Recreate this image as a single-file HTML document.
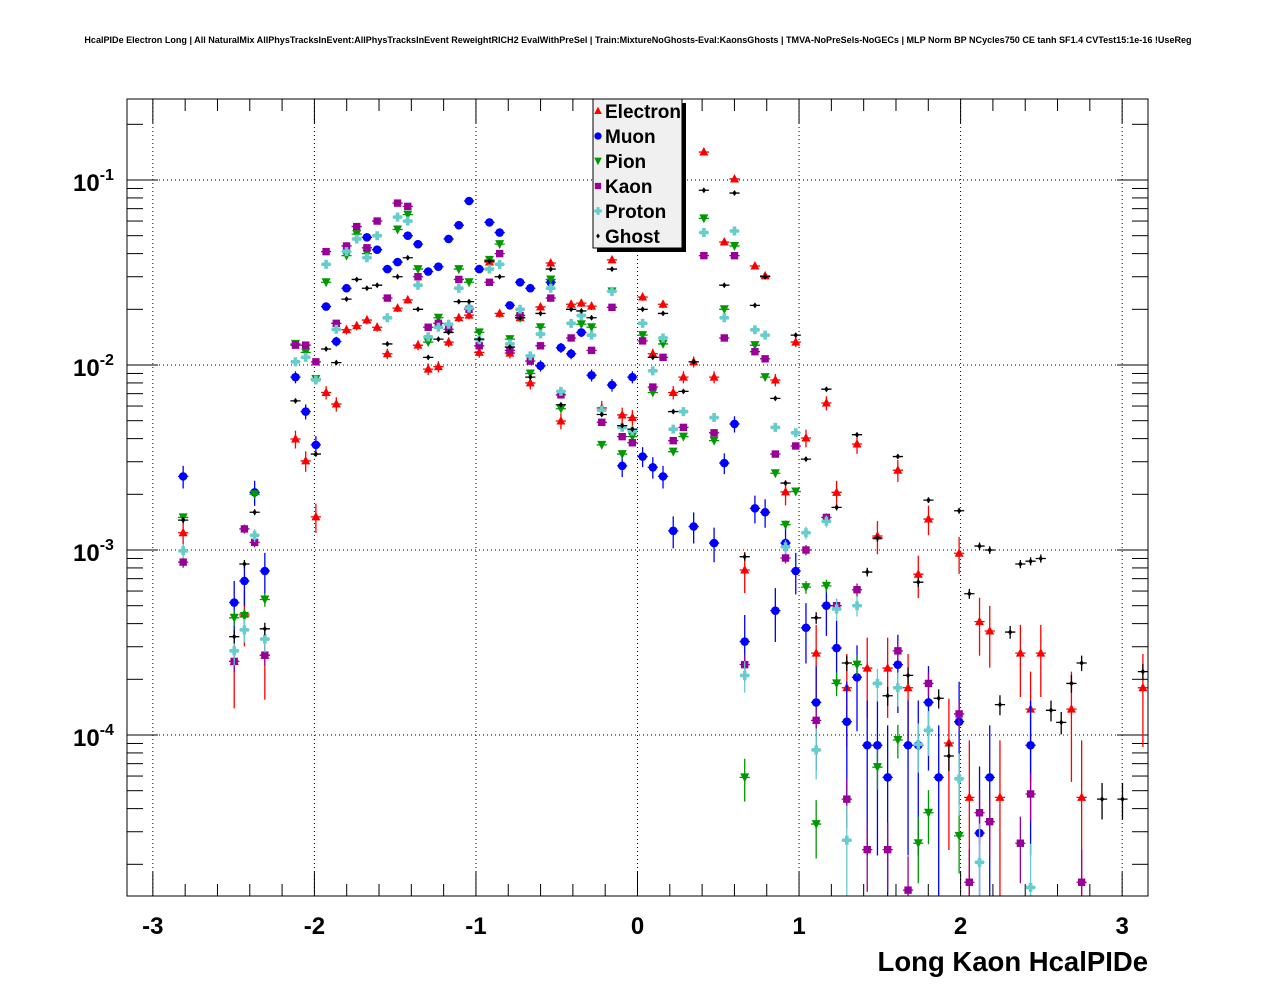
<!DOCTYPE html>
<html><head><meta charset="utf-8"><style>
html,body{margin:0;padding:0;background:#fff;}
svg{display:block;font-family:"Liberation Sans",Arial,sans-serif;}
</style></head><body>
<svg id="chart" width="1276" height="996" viewBox="0 0 1276 996" xmlns="http://www.w3.org/2000/svg">
<rect x="0" y="0" width="1276" height="996" fill="#fff"/>
<text x="638" y="43" text-anchor="middle" font-size="9.05" font-weight="bold">HcalPIDe Electron Long | All NaturalMix AllPhysTracksInEvent:AllPhysTracksInEvent ReweightRICH2 EvalWithPreSel | Train:MixtureNoGhosts-Eval:KaonsGhosts | TMVA-NoPreSels-NoGECs | MLP Norm BP NCycles750 CE tanh SF1.4 CVTest15:1e-16 !UseReg</text>
<g id="grid"></g>
<g id="axes"></g>
<defs><clipPath id="pc"><rect x="127" y="99" width="1021" height="797"/></clipPath></defs>
<g id="marks" clip-path="url(#pc)"></g>
<rect x="127" y="99" width="1021" height="797" fill="none" stroke="#000" stroke-width="1"/>
<text x="1148" y="971" text-anchor="end" font-size="27.5" font-weight="bold">Long Kaon HcalPIDe</text>
<g id="legend"></g>
</svg>
<script>
const xMin = -3.16, xMax = 3.16, nBins = 100;
const xTickLabels = ["-3","-2","-1","0","1","2","3"];
const xTickValues = [-3,-2,-1,0,1,2,3];
const yTickExps = ["-1","-2","-3","-4"];
const seriesNames = ["Electron","Muon","Pion","Kaon","Proton","Ghost"];

const electronBins = [5,10,11,13,16,17,18,19,20,21,22,23,24,25,26,27,28,29,30,31,32,33,34,35,36,37,38,39,40,41,42,43,44,45,46,47,48,49,50,51,52,53,54,55,56,57,58,59,60,61,62,63,64,65,66,67,68,69,70,71,72,73,74,75,76,77,78,80,81,82,83,84,85,87,88,89,92,93,99];
const electronValues = [1.24e-3,2.5e-4,4.5e-4,2.7e-4,3.98e-3,3.03e-3,1.51e-3,7.1e-3,6.15e-3,1.55e-2,1.63e-2,1.75e-2,1.6e-2,1.15e-2,2.03e-2,2.25e-2,1.28e-2,9.5e-3,9.8e-3,1.33e-2,1.8e-2,1.86e-2,1.17e-2,3.6e-2,1.9e-2,1.16e-2,1.8e-2,8e-3,2.06e-2,3.56e-2,4.98e-3,2.13e-2,2.16e-2,2.08e-2,5.86e-3,3.7e-2,5.37e-3,5.2e-3,2.33e-2,1.15e-2,2.13e-2,7.1e-3,8.6e-3,1.04e-2,0.1416,8.6e-3,4.62e-2,0.1013,7.8e-4,3.43e-2,3.03e-2,8.3e-3,2.06e-3,1.33e-2,4.03e-3,2.77e-4,6.23e-3,2.05e-3,1.8e-4,3.74e-3,2.3e-4,1.19e-3,2.3e-4,2.7e-3,1.8e-4,7.4e-4,1.47e-3,9.05e-5,9.6e-4,4.6e-5,4.1e-4,3.65e-4,4.6e-5,2.77e-4,1.38e-4,2.77e-4,1.38e-4,4.6e-5,1.8e-4];

const muonBins = [5,10,11,12,13,16,17,18,19,20,21,23,24,25,26,27,28,29,30,31,32,33,34,35,36,37,38,39,40,41,42,43,44,45,47,48,49,50,51,52,53,55,57,58,59,61,62,60,63,64,65,66,67,68,69,70,71,72,73,74,75,76,77,78,79,81,83,84,88];
const muonValues = [2.5e-3,5.2e-4,6.8e-4,2.05e-3,7.7e-4,8.6e-3,5.6e-3,3.7e-3,2.07e-2,1.34e-2,2.6e-2,4.9e-2,4.2e-2,3.3e-2,3.6e-2,5.0e-2,4.5e-2,3.2e-2,3.4e-2,4.8e-2,5.7e-2,7.7e-2,3.3e-2,5.9e-2,5.2e-2,2.1e-2,2.8e-2,2.6e-2,9.9e-3,2.8e-2,1.24e-2,1.15e-2,1.5e-2,8.8e-3,7.8e-3,2.85e-3,8.6e-3,3.2e-3,2.8e-3,2.5e-3,1.27e-3,1.34e-3,1.09e-3,2.95e-3,4.8e-3,1.68e-3,1.6e-3,3.2e-4,4.7e-4,1.09e-3,7.7e-4,3.8e-4,1.5e-4,5.0e-4,2.95e-4,1.18e-4,2.05e-4,8.8e-5,8.8e-5,5.9e-5,2.4e-4,8.8e-5,8.8e-5,1.5e-4,5.9e-5,1.18e-4,2.95e-5,5.9e-5,8.8e-5];

const pionBins = [5,10,11,12,13,16,17,18,19,21,22,23,26,27,28,29,30,32,33,34,35,36,37,38,39,40,41,42,44,45,46,47,48,49,50,51,52,53,54,56,57,58,59,61,62,63,64,65,66,68,60,67,69,71,73,75,77,78,81];
const pionValues = [1.5e-3,4.3e-4,4.4e-4,2.0e-3,5.4e-4,1.3e-2,1.17e-2,8.4e-3,2.8e-2,3.9e-2,5.1e-2,4.0e-2,5.4e-2,6.5e-2,3.3e-2,1.33e-2,1.8e-2,3.3e-2,2.8e-2,1.5e-2,3.7e-2,4.5e-2,1.38e-2,1.8e-2,9.0e-3,1.6e-2,2.9e-2,5.8e-3,1.66e-2,1.6e-2,3.7e-3,2.5e-2,3.3e-3,4.1e-3,1.45e-2,7.1e-3,1.3e-2,3.4e-3,4.1e-3,6.2e-2,3.9e-3,2.0e-2,4.4e-2,1.28e-2,8.6e-3,2.6e-3,1.37e-3,2.07e-3,6.3e-4,6.4e-4,5.9e-5,3.3e-5,1.9e-4,2.4e-4,6.7e-5,9.4e-5,2.6e-5,3.8e-5,2.85e-5];

const kaonBins = [5,10,11,12,13,16,17,18,19,20,21,22,23,24,25,26,27,28,29,30,31,32,33,34,35,36,37,38,39,40,41,42,43,45,46,47,48,49,50,51,52,53,54,56,57,58,59,61,62,63,64,65,66,68,71,60,67,69,70,72,74,75,76,78,81,82,83,84,87,88,93];
const kaonValues = [8.6e-4,2.5e-4,1.3e-3,1.1e-3,2.7e-4,1.28e-2,1.28e-2,1.04e-2,4.1e-2,1.68e-2,4.4e-2,5.6e-2,4.3e-2,6.0e-2,2.3e-2,7.5e-2,7.2e-2,3.0e-2,1.6e-2,1.68e-2,1.56e-2,2.9e-2,2.0e-2,1.27e-2,2.8e-2,4.0e-2,1.2e-2,1.85e-2,1.05e-2,1.27e-2,2.3e-2,6.9e-3,1.4e-2,1.2e-2,4.9e-3,2.05e-2,4.1e-3,3.8e-3,1.35e-2,7.6e-3,1.1e-2,3.9e-3,4.6e-3,3.9e-2,4.3e-3,1.4e-2,3.9e-2,1.18e-2,1.08e-2,3.3e-3,9.05e-4,3.65e-3,1.0e-3,1.5e-3,6.1e-4,2.4e-4,1.2e-4,5.0e-4,4.5e-5,2.4e-5,2.4e-5,2.85e-4,1.45e-5,1.9e-4,1.3e-4,1.6e-5,3.8e-5,3.4e-5,2.6e-5,4.8e-5,1.6e-5];

const protonBins = [5,10,11,12,13,16,17,18,19,20,21,22,23,24,25,26,27,28,29,30,31,32,33,34,35,36,37,38,39,40,41,42,43,44,45,46,47,48,49,50,51,52,53,54,56,57,58,59,61,62,63,64,65,66,68,60,67,69,70,71,73,75,77,78,81,83,88];
const protonValues = [9.9e-4,2.85e-4,3.7e-4,1.2e-3,3.3e-4,1.04e-2,1.1e-2,8.3e-3,3.5e-2,1.56e-2,4.1e-2,4.8e-2,3.8e-2,5.0e-2,1.8e-2,6.3e-2,6.0e-2,2.7e-2,1.42e-2,1.6e-2,1.66e-2,2.6e-2,2.03e-2,1.37e-2,3.3e-2,3.5e-2,1.3e-2,2.0e-2,1.12e-2,1.47e-2,2.6e-2,7.2e-3,1.68e-2,1.85e-2,1.45e-2,5.7e-3,2.5e-2,4.6e-3,4.4e-3,1.68e-2,9.3e-3,1.4e-2,4.5e-3,5.6e-3,5.2e-2,5.2e-3,1.8e-2,5.3e-2,1.55e-2,1.45e-2,4.6e-3,1.04e-3,4.3e-3,1.24e-3,1.43e-3,2.1e-4,8.3e-5,4.8e-4,2.7e-5,5.0e-4,1.9e-4,1.8e-4,8.9e-5,1.06e-4,5.8e-5,2.05e-5,1.5e-5];

const ghostBins = [5,10,11,12,13,16,18,19,20,21,22,23,24,25,26,27,28,29,30,31,32,33,34,35,36,37,38,39,40,41,42,43,44,45,46,47,48,49,50,51,52,53,54,55,56,58,59,61,62,63,64,65,66,68,69,71,72,73,75,77,78,81,82,83,84,87,88,89,60,67,70,74,76,79,80,85,86,90,91,92,93,95,97,99];
const ghostValues = [1.45e-3,3.4e-4,8.4e-4,1.6e-3,3.75e-4,6.4e-3,3.3e-3,1.22e-2,1.03e-2,2.27e-2,2.9e-2,2.6e-2,2.7e-2,1.3e-2,3.0e-2,3.8e-2,2.0e-2,1.1e-2,1.38e-2,1.5e-2,2.2e-2,2.2e-2,1.38e-2,3.65e-2,3.0e-2,1.25e-2,1.8e-2,8.6e-3,1.9e-2,3.3e-2,6.1e-3,2.0e-2,1.96e-2,1.8e-2,5.4e-3,3.3e-2,4.7e-3,4.5e-3,2.0e-2,1.1e-2,1.9e-2,5.6e-3,7.2e-3,1.04e-2,8.8e-2,2.7e-2,8.5e-2,2.1e-2,3.0e-2,6.6e-3,2.3e-3,1.45e-2,3.1e-3,7.4e-3,1.7e-3,4.2e-3,7.6e-4,1.16e-3,3.2e-3,6.7e-4,1.86e-3,1.63e-3,5.8e-4,1.05e-3,1.0e-3,8.4e-4,8.7e-4,9.0e-4,9.2e-4,4.3e-4,2.45e-4,1.63e-4,2.1e-4,1.58e-4,7.7e-5,1.46e-4,3.6e-4,1.36e-4,1.17e-4,1.9e-4,2.45e-4,4.5e-5,4.5e-5,2.2e-4];

const NS = "http://www.w3.org/2000/svg";
const PL = 127, PR = 1148, PT = 99, PB = 896;
function xScale(v){ return PL + (v - xMin) / (xMax - xMin) * (PR - PL); }
function yScale(v){ return 180 - 185 * (Math.log10(v) + 1); }
const binW = (xMax - xMin) / nBins;
function binCenter(i){ return xMin + binW * (i + 0.5); }
function mk(tag, attrs, parent){
  const e = document.createElementNS(NS, tag);
  for (const k in attrs) e.setAttribute(k, attrs[k]);
  parent.appendChild(e); return e;
}
const grid = document.getElementById('grid');
const axes = document.getElementById('axes');
const marks = document.getElementById('marks');
const legend = document.getElementById('legend');

xTickValues.forEach(v => {
  const l = mk('line', {x1:xScale(v), x2:xScale(v), y1:PT, y2:PB, stroke:'#000', 'stroke-width':1, 'stroke-dasharray':'1,3'}, grid);
  
  
});
yTickExps.forEach(ex => {
  const y = yScale(Math.pow(10, +ex));
  const l = mk('line', {x1:PL, x2:PR, y1:y, y2:y, stroke:'#000', 'stroke-width':1, 'stroke-dasharray':'1,3'}, grid);
  
  
});

for (let k = -15; k <= 15; k++) {
  const v = k * 0.2;
  if (v < xMin || v > xMax) continue;
  const major = (k % 5 === 0);
  const len = major ? 24 : 12;
  const x = xScale(v);
  const t1 = mk('line', {x1:x, x2:x, y1:PB, y2:PB - len, stroke:'#000', 'stroke-width':1}, axes);
  
  
  const t2 = mk('line', {x1:x, x2:x, y1:PT, y2:PT + len, stroke:'#000', 'stroke-width':1}, axes);
  
  
}
xTickValues.forEach((v, i) => {
  const t = mk('text', {x:xScale(v), y:934, 'text-anchor':'middle', 'font-size':24, 'font-weight':'bold'}, axes);
  t.textContent = xTickLabels[i];
  
  
});

for (let d = -5; d <= -1; d++) {
  for (let m = 1; m <= 9; m++) {
    const v = m * Math.pow(10, d);
    const y = yScale(v);
    if (y < PT || y > PB) continue;
    const len = m === 1 ? 31 : 16;
    const t1 = mk('line', {x1:PL, x2:PL + len, y1:y, y2:y, stroke:'#000', 'stroke-width':1}, axes);
    
    
    const t2 = mk('line', {x1:PR, x2:PR - len, y1:y, y2:y, stroke:'#000', 'stroke-width':1}, axes);
    
    
  }
}
yTickExps.forEach(ex => {
  const y = yScale(Math.pow(10, +ex));
  const t = mk('text', {x:73, y:y + 11, 'font-size':24, 'font-weight':'bold'}, axes);
  t.textContent = '10';
  
  
  const s = mk('tspan', {dy:-11, 'font-size':16}, t);
  s.textContent = ex;
});

const colors = ['#ff0000','#0000ff','#009900','#990099','#66cccc','#000000'];
function drawMarker(g, type, x, y, c, scale){
  const s = scale || 1;
  if (type === 0) return mk('polygon', {points:`${x},${y-5*s} ${x-4.5*s},${y+3.5*s} ${x+4.5*s},${y+3.5*s}`, fill:c}, g);
  if (type === 1) return mk('circle', {cx:x, cy:y, r:4.3*s, fill:c}, g);
  if (type === 2) return mk('polygon', {points:`${x-4.5*s},${y-4*s} ${x+4.5*s},${y-4*s} ${x},${y+5*s}`, fill:c}, g);
  if (type === 3) return mk('rect', {x:x-3.7*s, y:y-3.7*s, width:7.4*s, height:7.4*s, fill:c}, g);
  if (type === 4) return mk('path', {d:`M${x-1.8*s},${y-4.5*s}h${3.6*s}v${2.7*s}h${2.7*s}v${3.6*s}h${-2.7*s}v${2.7*s}h${-3.6*s}v${-2.7*s}h${-2.7*s}v${-3.6*s}h${2.7*s}z`, fill:c}, g);
  return mk('path', {d:`M${x},${y-3*s}L${x+2.2*s},${y}L${x},${y+3*s}L${x-2.2*s},${y}z`, fill:c}, g);
}
const allBins = [electronBins, muonBins, pionBins, kaonBins, protonBins, ghostBins];
const allValues = [electronValues, muonValues, pionValues, kaonValues, protonValues, ghostValues];
const errCoef = [0.007, 0.007, 0.002, 0.002, 0.0028, 0.0015];
const seriesKeys = ['electron','muon','pion','kaon','proton','ghost'];
for (let s = 0; s < 6; s++) {
  const g = mk('g', {}, marks);
  
  
  const bins = allBins[s], vals = allValues[s];
  const n = Math.min(bins.length, vals.length);
  for (let i = 0; i < n; i++) {
    const v = vals[i];
    const xc = binCenter(bins[i]);
    const x = xScale(xc), y = yScale(v);
    const r = errCoef[s] / Math.sqrt(v);
    const yTop = yScale(v * (1 + r));
    const yBot = r < 1 ? yScale(v * (1 - r)) : PB + 5;
    const x0 = xScale(xc - binW / 2), x1 = xScale(xc + binW / 2);
    const eb = mk('path', {d:`M${x0},${y}H${x1}M${x},${yTop}V${yBot}`, stroke:colors[s], 'stroke-width':1.3, fill:'none'}, g);
    
    
    const m = drawMarker(g, s, x, y, colors[s]);
    
    
  }
}

const lx = 593, ly = 99, lw = 89, lh = 149;
const sh = mk('rect', {x:lx + 4, y:ly + 4, width:lw, height:lh, fill:'#000'}, legend);


const bx = mk('rect', {x:lx, y:ly, width:lw, height:lh, fill:'#f0f0f0', stroke:'#000', 'stroke-width':1}, legend);


seriesNames.forEach((nm, i) => {
  const y = 111 + i * 25;
  const g = mk('g', {}, legend);
  
  
  drawMarker(g, i, 598, y, colors[i], 0.85);
  const t = mk('text', {x:605, y:y + 7, 'font-size':19, 'font-weight':'bold'}, g);
  t.textContent = nm;
});
</script>
</body></html>
